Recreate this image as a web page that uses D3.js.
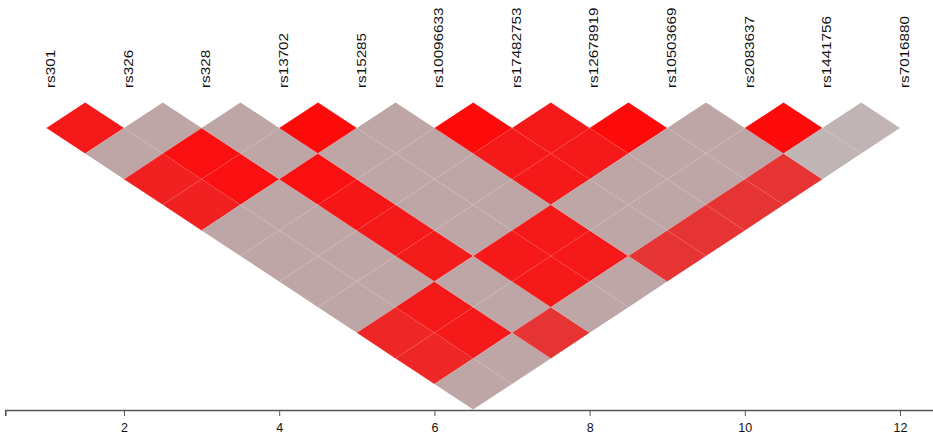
<!DOCTYPE html>
<html lang="en">
<head>
<meta charset="utf-8">
<title>LD heatmap</title>
<script src="https://d3js.org/d3.v7.min.js"></script>
<style>
  body { margin: 0; background: #fff; }
  text { font-family: "Liberation Sans", Arial, sans-serif; fill: #111; }
  .axis path, .axis line { stroke: #555; }
</style>
</head>
<body>
<script>
// SNP names, in order along the axis (index 1..12)
var snps = ["rs301", "rs326", "rs328", "rs13702", "rs15285", "rs10096633",
            "rs17482753", "rs12678919", "rs10503669", "rs2083637", "rs1441756", "rs7016880"];

// pairwise LD values, row i holds the pairs (i, j) for j = i+1 .. 12
var ld1  = [0.95, 0.3, 0.92, 0.92, 0.3, 0.3, 0.3, 0.3, 0.9, 0.9, 0.3];
var ld2  = [0.3, 0.98, 0.98, 0.3, 0.3, 0.3, 0.3, 0.95, 0.95, 0.3];
var ld3  = [0.3, 0.3, 0.98, 0.96, 0.95, 0.94, 0.3, 0.3, 0.85];
var ld4  = [1, 0.3, 0.3, 0.3, 0.3, 0.95, 0.95, 0.3];
var ld5  = [0.3, 0.3, 0.3, 0.3, 0.95, 0.95, 0.3];
var ld6  = [1, 0.95, 0.95, 0.3, 0.3, 0.85];
var ld7  = [0.95, 0.95, 0.3, 0.3, 0.85];
var ld8  = [1, 0.3, 0.3, 0.85];
var ld9  = [0.3, 0.3, 0.85];
var ld10 = [1, 0.1];
var ld11 = [0.1];
var ldRows = [ld1, ld2, ld3, ld4, ld5, ld6, ld7, ld8, ld9, ld10, ld11];

var tickVals = [2, 4, 6, 8, 10, 12];

var w = 933, h = 438;

// x: SNP index, y: distance between the two SNPs of a pair
var x = d3.scaleLinear().domain([1, 12]).range([46.4, 900]);
var y = d3.scaleLinear().domain([1, 11]).range([128, 384]);
var color = d3.scaleLinear()
    .domain([0.1, 0.3, 0.85, 1])
    .range(["#c0b4b4", "#bfa6a6", "#e63434", "#fd0b0b"]);

var cells = [];
ldRows.forEach(function(row, r) {
    row.forEach(function(v, c) {
        cells.push({i: r + 1, j: r + 2 + c, v: v});
    });
});

var svg = d3.select("body").append("svg").attr("width", w).attr("height", h);

var hw = x(1.5) - x(1);
var hh = y(2) - y(1);

svg.append("g").selectAll("path").data(cells).enter().append("path")
    .attr("d", function(d) {
        var cx = x((d.i + d.j) / 2), cy = y(d.j - d.i);
        return "M" + (cx - hw) + "," + cy + "L" + cx + "," + (cy - hh) +
               "L" + (cx + hw) + "," + cy + "L" + cx + "," + (cy + hh) + "Z";
    })
    .attr("fill", function(d) { return color(d.v); })
    .attr("stroke", "#fff")
    .attr("stroke-opacity", 0.05)
    .attr("stroke-width", 0.5);

// SNP labels
svg.append("g").selectAll("text").data(snps).enter().append("text")
    .attr("transform", function(d, i) {
        return "translate(" + (x(i + 1) + 8.8) + ",88) rotate(-90) scale(1.24,1)";
    })
    .style("font-size", "12.3px")
    .text(function(d) { return d; });

// axis
var axisScale = d3.scaleLinear().domain([0.47, 12.45]).range([x(0.47), x(12.45)]);
var axis = svg.append("g").attr("class", "axis")
    .attr("transform", "translate(0,410)")
    .call(d3.axisBottom(axisScale).tickValues(tickVals).tickSizeOuter(0).tickSize(6).tickPadding(7));
axis.select(".domain").attr("stroke-width", 1.6);
axis.selectAll("text")
    .style("font-size", "12.5px")
    .attr("fill", "#111")
    .attr("font-family", "Liberation Sans, Arial, sans-serif");
</script>
</body>
</html>
